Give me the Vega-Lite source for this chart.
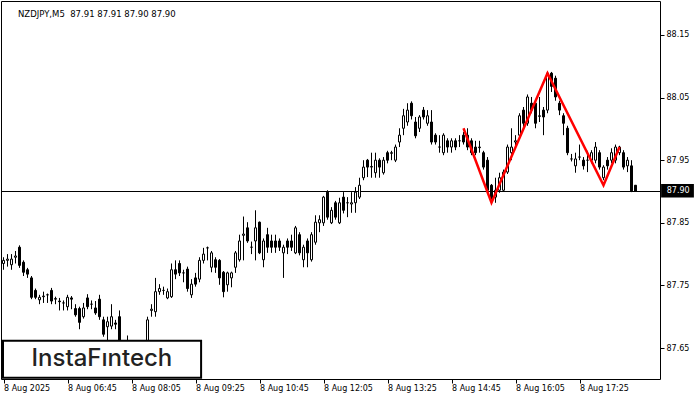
{
  "$schema": "https://vega.github.io/schema/vega-lite/v6.json",
  "width": 659,
  "height": 378,
  "autosize": "none",
  "padding": {"left": 1, "top": 1, "right": 40, "bottom": 21},
  "background": "white",
  "config": {"view": {"stroke": "black", "strokeWidth": 1}},
  "title": {"text": "NZDJPY,M5\u00a0 87.91 87.91 87.90 87.90", "anchor": "start", "frame": "group", "orient": "top", "offset": -17, "dx": 17, "font": "DejaVu Sans", "fontSize": 8.5, "fontWeight": "normal", "color": "black"},
  "datasets": {
    "candles": [
      {"i":0,"o":87.785,"h":87.795,"l":87.775,"c":87.79},
      {"i":1,"o":87.79,"h":87.80,"l":87.78,"c":87.792},
      {"i":2,"o":87.783,"h":87.80,"l":87.775,"c":87.792},
      {"i":3,"o":87.795,"h":87.805,"l":87.785,"c":87.797},
      {"i":4,"o":87.811,"h":87.814,"l":87.778,"c":87.782},
      {"i":5,"o":87.787,"h":87.79,"l":87.765,"c":87.771},
      {"i":6,"o":87.775,"h":87.778,"l":87.762,"c":87.768},
      {"i":7,"o":87.762,"h":87.765,"l":87.728,"c":87.731},
      {"i":8,"o":87.742,"h":87.745,"l":87.728,"c":87.731},
      {"i":9,"o":87.727,"h":87.735,"l":87.72,"c":87.731},
      {"i":10,"o":87.732,"h":87.74,"l":87.722,"c":87.733},
      {"i":11,"o":87.735,"h":87.737,"l":87.722,"c":87.735},
      {"i":12,"o":87.742,"h":87.746,"l":87.72,"c":87.725},
      {"i":13,"o":87.728,"h":87.732,"l":87.72,"c":87.729},
      {"i":14,"o":87.725,"h":87.73,"l":87.71,"c":87.724},
      {"i":15,"o":87.722,"h":87.726,"l":87.71,"c":87.722},
      {"i":16,"o":87.716,"h":87.735,"l":87.71,"c":87.731},
      {"i":17,"o":87.73,"h":87.733,"l":87.712,"c":87.728},
      {"i":18,"o":87.713,"h":87.72,"l":87.70,"c":87.703},
      {"i":19,"o":87.713,"h":87.716,"l":87.68,"c":87.691},
      {"i":20,"o":87.70,"h":87.722,"l":87.697,"c":87.714},
      {"i":21,"o":87.73,"h":87.736,"l":87.712,"c":87.716},
      {"i":22,"o":87.72,"h":87.726,"l":87.712,"c":87.72},
      {"i":23,"o":87.714,"h":87.725,"l":87.703,"c":87.706},
      {"i":24,"o":87.728,"h":87.735,"l":87.695,"c":87.70},
      {"i":25,"o":87.695,"h":87.70,"l":87.668,"c":87.672},
      {"i":26,"o":87.684,"h":87.70,"l":87.66,"c":87.692},
      {"i":27,"o":87.685,"h":87.72,"l":87.68,"c":87.70},
      {"i":28,"o":87.69,"h":87.695,"l":87.68,"c":87.688},
      {"i":29,"o":87.70,"h":87.71,"l":87.64,"c":87.655},
      {"i":30,"o":87.655,"h":87.66,"l":87.63,"c":87.64},
      {"i":31,"o":87.64,"h":87.67,"l":87.62,"c":87.65},
      {"i":32,"o":87.65,"h":87.655,"l":87.625,"c":87.635},
      {"i":33,"o":87.635,"h":87.645,"l":87.62,"c":87.637},
      {"i":34,"o":87.637,"h":87.65,"l":87.628,"c":87.645},
      {"i":35,"o":87.645,"h":87.66,"l":87.635,"c":87.655},
      {"i":36,"o":87.655,"h":87.70,"l":87.65,"c":87.695},
      {"i":37,"o":87.71,"h":87.72,"l":87.70,"c":87.712},
      {"i":38,"o":87.708,"h":87.762,"l":87.70,"c":87.74},
      {"i":39,"o":87.74,"h":87.752,"l":87.735,"c":87.745},
      {"i":40,"o":87.742,"h":87.748,"l":87.735,"c":87.742},
      {"i":41,"o":87.73,"h":87.745,"l":87.728,"c":87.74},
      {"i":42,"o":87.732,"h":87.785,"l":87.73,"c":87.775},
      {"i":43,"o":87.775,"h":87.79,"l":87.76,"c":87.768},
      {"i":44,"o":87.785,"h":87.79,"l":87.765,"c":87.77},
      {"i":45,"o":87.77,"h":87.775,"l":87.755,"c":87.77},
      {"i":46,"o":87.776,"h":87.78,"l":87.74,"c":87.745},
      {"i":47,"o":87.735,"h":87.76,"l":87.73,"c":87.752},
      {"i":48,"o":87.762,"h":87.77,"l":87.748,"c":87.752},
      {"i":49,"o":87.76,"h":87.795,"l":87.755,"c":87.79},
      {"i":50,"o":87.79,"h":87.81,"l":87.785,"c":87.80},
      {"i":51,"o":87.81,"h":87.812,"l":87.79,"c":87.81},
      {"i":52,"o":87.779,"h":87.805,"l":87.771,"c":87.802},
      {"i":53,"o":87.791,"h":87.795,"l":87.77,"c":87.779},
      {"i":54,"o":87.79,"h":87.792,"l":87.751,"c":87.762},
      {"i":55,"o":87.771,"h":87.773,"l":87.731,"c":87.74},
      {"i":56,"o":87.751,"h":87.772,"l":87.74,"c":87.77},
      {"i":57,"o":87.762,"h":87.772,"l":87.747,"c":87.77},
      {"i":58,"o":87.779,"h":87.805,"l":87.77,"c":87.802},
      {"i":59,"o":87.791,"h":87.831,"l":87.788,"c":87.821},
      {"i":60,"o":87.83,"h":87.86,"l":87.79,"c":87.832},
      {"i":61,"o":87.842,"h":87.851,"l":87.818,"c":87.821},
      {"i":62,"o":87.811,"h":87.82,"l":87.80,"c":87.811},
      {"i":63,"o":87.821,"h":87.87,"l":87.79,"c":87.842},
      {"i":64,"o":87.851,"h":87.852,"l":87.80,"c":87.802},
      {"i":65,"o":87.791,"h":87.825,"l":87.779,"c":87.821},
      {"i":66,"o":87.831,"h":87.842,"l":87.802,"c":87.811},
      {"i":67,"o":87.821,"h":87.831,"l":87.802,"c":87.811},
      {"i":68,"o":87.821,"h":87.831,"l":87.802,"c":87.811},
      {"i":69,"o":87.821,"h":87.825,"l":87.805,"c":87.811},
      {"i":70,"o":87.802,"h":87.815,"l":87.762,"c":87.811},
      {"i":71,"o":87.821,"h":87.825,"l":87.80,"c":87.811},
      {"i":72,"o":87.821,"h":87.831,"l":87.805,"c":87.811},
      {"i":73,"o":87.802,"h":87.845,"l":87.80,"c":87.842},
      {"i":74,"o":87.831,"h":87.835,"l":87.798,"c":87.802},
      {"i":75,"o":87.791,"h":87.815,"l":87.779,"c":87.811},
      {"i":76,"o":87.821,"h":87.825,"l":87.779,"c":87.802},
      {"i":77,"o":87.791,"h":87.835,"l":87.788,"c":87.831},
      {"i":78,"o":87.819,"h":87.862,"l":87.815,"c":87.851},
      {"i":79,"o":87.85,"h":87.862,"l":87.835,"c":87.855},
      {"i":80,"o":87.85,"h":87.893,"l":87.845,"c":87.891},
      {"i":81,"o":87.899,"h":87.902,"l":87.855,"c":87.859},
      {"i":82,"o":87.85,"h":87.875,"l":87.848,"c":87.87},
      {"i":83,"o":87.882,"h":87.885,"l":87.855,"c":87.859},
      {"i":84,"o":87.85,"h":87.89,"l":87.848,"c":87.882},
      {"i":85,"o":87.891,"h":87.899,"l":87.865,"c":87.87},
      {"i":86,"o":87.882,"h":87.891,"l":87.859,"c":87.882},
      {"i":87,"o":87.88,"h":87.899,"l":87.866,"c":87.882},
      {"i":88,"o":87.882,"h":87.907,"l":87.866,"c":87.899},
      {"i":89,"o":87.891,"h":87.922,"l":87.888,"c":87.91},
      {"i":90,"o":87.922,"h":87.95,"l":87.918,"c":87.939},
      {"i":91,"o":87.95,"h":87.952,"l":87.923,"c":87.939},
      {"i":92,"o":87.939,"h":87.962,"l":87.922,"c":87.94},
      {"i":93,"o":87.93,"h":87.962,"l":87.922,"c":87.95},
      {"i":94,"o":87.95,"h":87.953,"l":87.922,"c":87.939},
      {"i":95,"o":87.93,"h":87.955,"l":87.927,"c":87.95},
      {"i":96,"o":87.962,"h":87.965,"l":87.945,"c":87.95},
      {"i":97,"o":87.961,"h":87.965,"l":87.95,"c":87.962},
      {"i":98,"o":87.95,"h":87.975,"l":87.947,"c":87.971},
      {"i":99,"o":87.979,"h":88.001,"l":87.971,"c":87.99},
      {"i":100,"o":88.001,"h":88.032,"l":87.99,"c":88.021},
      {"i":101,"o":88.011,"h":88.041,"l":88.005,"c":88.03},
      {"i":102,"o":88.041,"h":88.044,"l":88.015,"c":88.021},
      {"i":103,"o":88.011,"h":88.019,"l":87.985,"c":87.989},
      {"i":104,"o":88.001,"h":88.022,"l":87.995,"c":88.019},
      {"i":105,"o":88.03,"h":88.035,"l":88.015,"c":88.019},
      {"i":106,"o":88.009,"h":88.03,"l":88.005,"c":88.021},
      {"i":107,"o":88.011,"h":88.03,"l":87.975,"c":87.979},
      {"i":108,"o":87.99,"h":87.993,"l":87.975,"c":87.979},
      {"i":109,"o":87.971,"h":87.99,"l":87.962,"c":87.971},
      {"i":110,"o":87.962,"h":87.993,"l":87.958,"c":87.99},
      {"i":111,"o":87.981,"h":87.985,"l":87.962,"c":87.971},
      {"i":112,"o":87.971,"h":87.985,"l":87.962,"c":87.981},
      {"i":113,"o":87.981,"h":87.985,"l":87.966,"c":87.971},
      {"i":114,"o":87.981,"h":87.99,"l":87.971,"c":87.981},
      {"i":115,"o":87.99,"h":87.995,"l":87.975,"c":87.979},
      {"i":116,"o":87.99,"h":88.001,"l":87.966,"c":87.971},
      {"i":117,"o":87.981,"h":87.985,"l":87.958,"c":87.962},
      {"i":118,"o":87.971,"h":87.981,"l":87.958,"c":87.962},
      {"i":119,"o":87.97,"h":87.981,"l":87.962,"c":87.971},
      {"i":120,"o":87.962,"h":87.965,"l":87.935,"c":87.939},
      {"i":121,"o":87.95,"h":87.955,"l":87.898,"c":87.902},
      {"i":122,"o":87.91,"h":87.912,"l":87.882,"c":87.89},
      {"i":123,"o":87.891,"h":87.922,"l":87.882,"c":87.902},
      {"i":124,"o":87.902,"h":87.93,"l":87.898,"c":87.922},
      {"i":125,"o":87.902,"h":87.935,"l":87.90,"c":87.931},
      {"i":126,"o":87.931,"h":87.975,"l":87.928,"c":87.971},
      {"i":127,"o":87.962,"h":88.001,"l":87.95,"c":87.971},
      {"i":128,"o":87.979,"h":87.99,"l":87.97,"c":87.981},
      {"i":129,"o":87.99,"h":88.025,"l":87.985,"c":88.021},
      {"i":130,"o":88.03,"h":88.035,"l":88.0,"c":88.009},
      {"i":131,"o":88.009,"h":88.055,"l":88.005,"c":88.051},
      {"i":132,"o":88.041,"h":88.051,"l":88.025,"c":88.03},
      {"i":133,"o":88.041,"h":88.045,"l":88.001,"c":88.009},
      {"i":134,"o":88.02,"h":88.051,"l":88.011,"c":88.021},
      {"i":135,"o":88.03,"h":88.035,"l":87.99,"c":88.019},
      {"i":136,"o":88.03,"h":88.092,"l":88.025,"c":88.089},
      {"i":137,"o":88.089,"h":88.091,"l":88.059,"c":88.068},
      {"i":138,"o":88.081,"h":88.085,"l":88.045,"c":88.051},
      {"i":139,"o":88.041,"h":88.045,"l":88.022,"c":88.03},
      {"i":140,"o":88.021,"h":88.025,"l":87.99,"c":88.009},
      {"i":141,"o":88.001,"h":88.005,"l":87.958,"c":87.962},
      {"i":142,"o":87.952,"h":87.96,"l":87.948,"c":87.952},
      {"i":143,"o":87.941,"h":87.962,"l":87.93,"c":87.952},
      {"i":144,"o":87.955,"h":87.975,"l":87.95,"c":87.955},
      {"i":145,"o":87.95,"h":87.955,"l":87.935,"c":87.941},
      {"i":146,"o":87.95,"h":87.965,"l":87.931,"c":87.95},
      {"i":147,"o":87.95,"h":87.966,"l":87.945,"c":87.962},
      {"i":148,"o":87.95,"h":87.979,"l":87.945,"c":87.971},
      {"i":149,"o":87.962,"h":87.966,"l":87.935,"c":87.939},
      {"i":150,"o":87.922,"h":87.942,"l":87.918,"c":87.939},
      {"i":151,"o":87.95,"h":87.955,"l":87.935,"c":87.941},
      {"i":152,"o":87.95,"h":87.969,"l":87.945,"c":87.962},
      {"i":153,"o":87.95,"h":87.975,"l":87.945,"c":87.971},
      {"i":154,"o":87.962,"h":87.973,"l":87.958,"c":87.971},
      {"i":155,"o":87.962,"h":87.966,"l":87.935,"c":87.939},
      {"i":156,"o":87.941,"h":87.955,"l":87.931,"c":87.95},
      {"i":157,"o":87.941,"h":87.95,"l":87.899,"c":87.901},
      {"i":158,"o":87.91,"h":87.91,"l":87.90,"c":87.90}
    ],
    "pattern": [
      {"i":115,"p":88.001},
      {"i":122,"p":87.882},
      {"i":136,"p":88.089},
      {"i":150,"p":87.91},
      {"i":154,"p":87.971}
    ],
    "one": [{}]
  },
  "layer": [
    {
      "data": {"name": "one"},
      "mark": {"type": "rule", "color": "black", "strokeWidth": 1},
      "encoding": {
        "y": {"datum": 87.90, "type": "quantitative", "scale": {"domain": [87.6005, 88.2043], "nice": false, "zero": false, "padding": 0},
          "axis": {"orient": "right", "values": [87.65, 87.75, 87.85, 87.95, 88.05, 88.15], "format": ".2f", "title": null, "grid": false, "domain": false, "tickSize": 4, "tickColor": "black", "labelPadding": 2, "labelFont": "DejaVu Sans", "labelFontSize": 8, "labelColor": "black"}}
      }
    },
    {
      "data": {"name": "candles"},
      "mark": {"type": "rule", "color": "black", "strokeWidth": 1},
      "encoding": {
        "x": {"field": "i", "type": "quantitative", "scale": {"domain": [-0.625, 164.125], "nice": false, "zero": false, "padding": 0},
          "axis": {"orient": "bottom", "values": [0, 16, 32, 48, 64, 80, 96, 112, 128, 144], "title": null, "grid": false, "domain": false, "tickSize": 4, "tickColor": "black", "labelAlign": "left", "labelPadding": 1, "labelFont": "DejaVu Sans", "labelFontSize": 8, "labelColor": "black",
            "labelExpr": "datum.value == 0 ? '8 Aug 2025' : '8 Aug ' + format(floor((325 + 5 * datum.value) / 60), '02d') + ':' + format((325 + 5 * datum.value) % 60, '02d')"}},
        "y": {"field": "l", "type": "quantitative", "scale": {"domain": [87.6005, 88.2043], "nice": false, "zero": false, "padding": 0}},
        "y2": {"field": "h"}
      }
    },
    {
      "data": {"name": "candles"},
      "mark": {"type": "bar", "size": 2, "stroke": "black", "strokeWidth": 1},
      "encoding": {
        "x": {"field": "i", "type": "quantitative", "scale": {"domain": [-0.625, 164.125], "nice": false, "zero": false, "padding": 0}},
        "y": {"field": "o", "type": "quantitative", "scale": {"domain": [87.6005, 88.2043], "nice": false, "zero": false, "padding": 0}},
        "y2": {"field": "c"},
        "fill": {"condition": {"test": "datum.c < datum.o", "value": "black"}, "value": "white"}
      }
    },
    {
      "data": {"name": "pattern"},
      "mark": {"type": "line", "color": "#ff0000", "strokeWidth": 2.5},
      "encoding": {
        "x": {"field": "i", "type": "quantitative", "scale": {"domain": [-0.625, 164.125], "nice": false, "zero": false, "padding": 0}},
        "y": {"field": "p", "type": "quantitative", "scale": {"domain": [87.6005, 88.2043], "nice": false, "zero": false, "padding": 0}},
        "order": {"field": "i"}
      }
    },
    {
      "data": {"name": "one"},
      "mark": {"type": "rect", "fill": "black"},
      "encoding": {
        "x": {"datum": 164.4, "type": "quantitative", "scale": {"domain": [-0.625, 164.125], "nice": false, "zero": false, "padding": 0}},
        "x2": {"datum": 172.6},
        "y": {"datum": 87.912, "type": "quantitative", "scale": {"domain": [87.6005, 88.2043], "nice": false, "zero": false, "padding": 0}},
        "y2": {"datum": 87.8905}
      }
    },
    {
      "data": {"name": "one"},
      "mark": {"type": "text", "text": "87.90", "color": "white", "font": "DejaVu Sans", "fontSize": 8, "align": "left", "baseline": "middle"},
      "encoding": {
        "x": {"datum": 165.8, "type": "quantitative", "scale": {"domain": [-0.625, 164.125], "nice": false, "zero": false, "padding": 0}},
        "y": {"datum": 87.9005, "type": "quantitative", "scale": {"domain": [87.6005, 88.2043], "nice": false, "zero": false, "padding": 0}}
      }
    },
    {
      "data": {"name": "one"},
      "mark": {"type": "rect", "fill": "white", "stroke": "black", "strokeWidth": 2},
      "encoding": {
        "x": {"datum": -0.125, "type": "quantitative", "scale": {"domain": [-0.625, 164.125], "nice": false, "zero": false, "padding": 0}},
        "x2": {"datum": 49.4},
        "y": {"datum": 87.6615, "type": "quantitative", "scale": {"domain": [87.6005, 88.2043], "nice": false, "zero": false, "padding": 0}},
        "y2": {"datum": 87.6025}
      }
    },
    {
      "data": {"name": "one"},
      "mark": {"type": "text", "text": "InstaF\u0131ntech", "color": "#222222", "font": "Inter", "fontSize": 24, "fontWeight": 500, "align": "center", "baseline": "middle"},
      "encoding": {
        "x": {"datum": 24.6, "type": "quantitative", "scale": {"domain": [-0.625, 164.125], "nice": false, "zero": false, "padding": 0}},
        "y": {"datum": 87.632, "type": "quantitative", "scale": {"domain": [87.6005, 88.2043], "nice": false, "zero": false, "padding": 0}}
      }
    }
  ]
}
